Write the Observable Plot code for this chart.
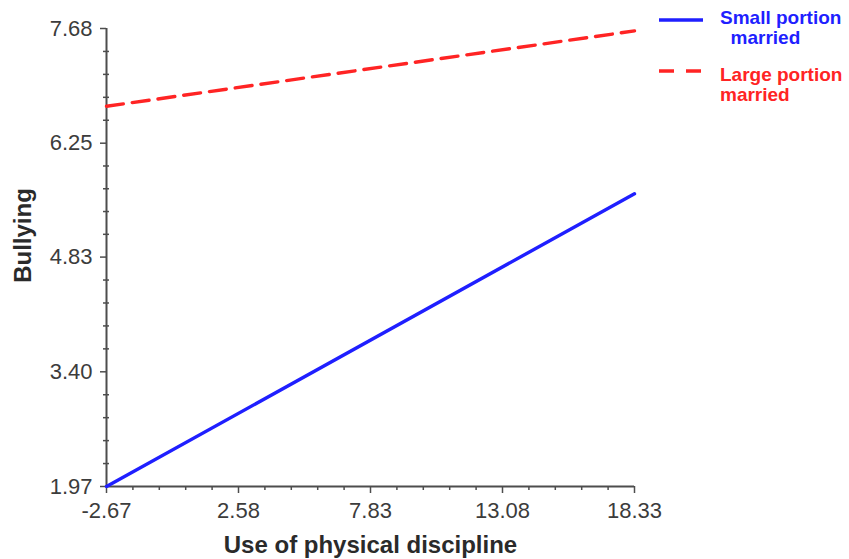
<!DOCTYPE html>
<html>
<head>
<meta charset="utf-8">
<script src="https://cdn.jsdelivr.net/npm/d3@7"></script>
<script src="https://cdn.jsdelivr.net/npm/@observablehq/plot@0.6"></script>
<style>
  html, body { margin: 0; padding: 0; background: #fff; }
  #wrap { position: relative; width: 849px; height: 559px; font-family: "Liberation Sans", Arial, sans-serif; }
  .lg { position: absolute; font-weight: bold; font-size: 19px; line-height: 20px; white-space: nowrap; }
  .sw { position: absolute; }
</style>
</head>
<body>
<div id="wrap"></div>
<script>
// ---- data ----
const seriesNames = ["Small portion married", "Large portion married"];
const xValues = [-2.67, 18.33];
const smallPortion = [1.97, 5.62];
const largePortion = [6.71, 7.65];
const xTicks = [-2.67, 2.58, 7.83, 13.08, 18.33];
const yTicks = [1.97, 3.40, 4.83, 6.25, 7.68];
const minorPerInterval = 4;

const data = [
  ...xValues.map((x, i) => ({series: seriesNames[0], x, y: smallPortion[i]})),
  ...xValues.map((x, i) => ({series: seriesNames[1], x, y: largePortion[i]}))
];

function minors(major) {
  const out = [];
  for (let i = 0; i < major.length - 1; i++) {
    const a = major[i], b = major[i + 1];
    for (let k = 1; k <= minorPerInterval; k++) out.push(a + (b - a) * k / (minorPerInterval + 1));
  }
  return out;
}
const xMinor = minors(xTicks);
const yMinor = minors(yTicks);

const axisColor = "#4d4d4d";
const blue = "#1f1fff";
const red = "#ff2424";

const chart = Plot.plot({
  width: 849,
  height: 559,
  marginLeft: 106,
  marginRight: 215,
  marginTop: 28,
  marginBottom: 73,
  style: {fontFamily: "'Liberation Sans', Arial, sans-serif", background: "#fff", overflow: "visible"},
  x: {domain: [xTicks[0], xTicks[xTicks.length - 1]]},
  y: {domain: [yTicks[0], yTicks[yTicks.length - 1]]},
  marks: [
    Plot.axisX({ticks: xMinor, tickSize: 4, text: null, stroke: axisColor, strokeWidth: 1.5, label: null}),
    Plot.axisX({ticks: xTicks, tickSize: 7, tickPadding: 9, tickFormat: d => d.toFixed(2),
      fontSize: 22, fill: "#3c3c3c", stroke: axisColor, strokeWidth: 1.5,
      label: null}),
    Plot.ruleY(yMinor, {x1: xTicks[0], x2: xTicks[0], insetLeft: -3, insetRight: -3, stroke: axisColor, strokeWidth: 1.5}),
    Plot.axisY({ticks: yTicks, tickSize: 6, tickPadding: 8, tickFormat: d => d.toFixed(2),
      fontSize: 22, fill: "#3c3c3c", stroke: axisColor, strokeWidth: 1.5, label: null}),
    Plot.ruleX([xTicks[0]], {stroke: axisColor, strokeWidth: 2}),
    Plot.ruleY([yTicks[0]], {stroke: axisColor, strokeWidth: 2}),
    Plot.line(data.filter(d => d.series === seriesNames[0]), {x: "x", y: "y", stroke: blue, strokeWidth: 3.4}),
    Plot.line(data.filter(d => d.series === seriesNames[1]), {x: "x", y: "y", stroke: red, strokeWidth: 3.4, strokeDasharray: "17,9"}),
    Plot.text(["Use of physical discipline"], {frameAnchor: "bottom", dy: 66, fontSize: 24, fontWeight: "bold", fill: "#2a2a2a"}),
    Plot.text(["Bullying"], {frameAnchor: "left", textAnchor: "middle", dx: -83, dy: -22, rotate: -90, fontSize: 24, fontWeight: "bold", fill: "#2a2a2a"})
  ]
});

const wrap = document.getElementById("wrap");
wrap.appendChild(chart);

// legend
const legend = [
  {name: seriesNames[0], color: blue, dash: null, swY: 20, textTop: 8, lines: ["Small portion", "\u00a0\u00a0married"]},
  {name: seriesNames[1], color: red, dash: "15,12", swY: 71, textTop: 65, lines: ["Large portion", "married"]}
];
for (const l of legend) {
  const sw = document.createElementNS("http://www.w3.org/2000/svg", "svg");
  sw.setAttribute("class", "sw");
  sw.setAttribute("width", 46);
  sw.setAttribute("height", 8);
  sw.style.left = "659px";
  sw.style.top = (l.swY - 4) + "px";
  const ln = document.createElementNS("http://www.w3.org/2000/svg", "line");
  ln.setAttribute("x1", 0); ln.setAttribute("x2", 44);
  ln.setAttribute("y1", 4); ln.setAttribute("y2", 4);
  ln.setAttribute("stroke", l.color);
  ln.setAttribute("stroke-width", 3.4);
  if (l.dash) ln.setAttribute("stroke-dasharray", l.dash);
  sw.appendChild(ln);
  wrap.appendChild(sw);
  const div = document.createElement("div");
  div.className = "lg";
  div.style.left = "720px";
  div.style.top = l.textTop + "px";
  div.style.color = l.color;
  div.innerHTML = l.lines.join("<br>");
  wrap.appendChild(div);
}
</script>
</body>
</html>
